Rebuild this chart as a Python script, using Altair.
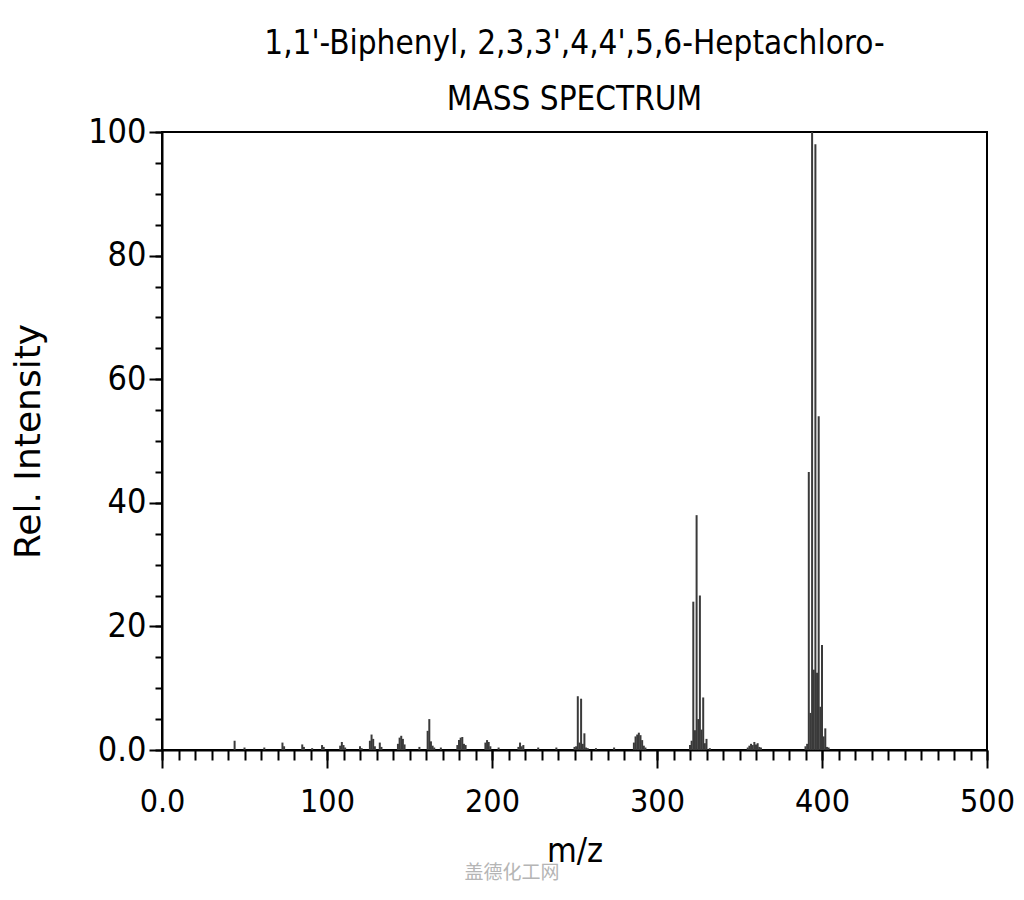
import altair as alt
import pandas as pd

mz = [44, 50, 62, 73, 74, 85, 86, 91, 97, 98, 108, 109, 110, 111, 120, 121,
      126, 127, 128, 129, 132, 133, 143, 144, 145, 146, 147, 156, 161, 162,
      163, 164, 165, 169, 179, 180, 181, 182, 183, 184, 196, 197, 198, 199,
      204, 216, 217, 218, 219, 228, 239, 250, 251, 252, 253, 254, 255, 256,
      257, 258, 263, 274, 286, 287, 288, 289, 290, 291, 292, 293, 320, 321,
      322, 323, 324, 325, 326, 327, 328, 329, 330, 332, 355, 356, 357, 358,
      359, 360, 361, 362, 363, 390, 391, 392, 393, 394, 395, 396, 397, 398,
      399, 400, 401, 402, 403, 404]
intensity = [1.5, 0.4, 0.4, 1.2, 0.6, 0.9, 0.5, 0.3, 0.8, 0.5, 0.7, 1.3, 0.8, 0.4, 0.6, 0.3,
             1.5, 2.5, 1.8, 0.6, 1.2, 0.5, 1.0, 2.0, 2.3, 1.8, 0.9, 0.5, 3.1, 5.0,
             1.4, 0.7, 0.4, 0.4, 0.8, 1.6, 2.0, 2.1, 1.0, 0.8, 1.2, 1.6, 1.3, 0.6,
             0.4, 0.5, 1.2, 0.6, 0.8, 0.4, 0.4, 0.5, 0.6, 8.7, 1.2, 8.3, 1.0, 2.7,
             0.4, 0.3, 0.3, 0.4, 1.2, 2.2, 2.5, 2.8, 2.4, 1.6, 0.7, 0.4, 0.8, 1.5,
             24.0, 3.2, 38.0, 5.0, 25.0, 3.3, 8.5, 1.1, 1.8, 0.3, 0.4, 0.7, 1.0, 0.8,
             1.3, 0.9, 1.1, 0.5, 0.4, 0.6, 1.0, 45.0, 6.0, 100.0, 13.0, 98.0, 12.5, 54.0,
             7.0, 17.0, 2.2, 3.5, 0.5, 0.4]

x_major = [0, 100, 200, 300, 400, 500]
x_minor = list(range(0, 501, 10))
y_major = [0, 20, 40, 60, 80, 100]
y_minor = list(range(0, 101, 5))

title_lines = ["1,1'-Biphenyl, 2,3,3',4,4',5,6-Heptachloro-", "MASS SPECTRUM"]
watermark = "盖德化工网"

df = pd.DataFrame({"mz": mz, "intensity": intensity})

FONT = "DejaVu Sans Condensed, DejaVu Sans"
lab_expr = "datum.value == 0 ? '0.0' : format(datum.value, 'd')"

xscale = alt.Scale(domain=[0, 500], nice=False, zero=False)
yscale = alt.Scale(domain=[0, 100], nice=False)

bars = alt.Chart(df).mark_rule(color="#3a3a3a", strokeWidth=2).encode(
    x=alt.X("mz:Q", scale=xscale,
            axis=alt.Axis(values=x_major, tickSize=18, tickWidth=2, tickColor="black",
                          domainColor="black", domainWidth=2, labelExpr=lab_expr,
                          labelFont=FONT, labelFontSize=32, labelColor="black",
                          labelPadding=18, title="m/z", titleFont=FONT,
                          titleFontSize=34, titleFontWeight="normal", titleColor="black",
                          titlePadding=17, grid=False, labelFlush=False)),
    y=alt.Y("intensity:Q", scale=yscale,
            axis=alt.Axis(values=y_major, tickSize=13, tickWidth=2, tickColor="black",
                          domainColor="black", domainWidth=2, labelExpr=lab_expr,
                          labelFont=FONT, labelFontSize=34, labelColor="black",
                          labelPadding=3, title="Rel. Intensity", titleFont="DejaVu Sans",
                          titleFontSize=36, titleFontWeight="normal", titleColor="black",
                          titlePadding=40, grid=False, labelFlush=False)),
    y2=alt.datum(0),
)

minor = alt.Chart(df).mark_point(opacity=0).encode(
    x=alt.X("mz:Q", scale=xscale,
            axis=alt.Axis(values=x_minor, tickSize=10, tickWidth=2, tickColor="black",
                          labels=False, domain=False, title=None, grid=False,
                          orient="bottom")),
    y=alt.Y("intensity:Q", scale=yscale,
            axis=alt.Axis(values=y_minor, tickSize=7, tickWidth=2, tickColor="black",
                          labels=False, domain=False, title=None, grid=False,
                          orient="left")),
)

wm = alt.Chart(pd.DataFrame({"t": [watermark]})).mark_text(
    font="Noto Sans CJK SC", fontSize=19, color="#b5b5b5", align="center", baseline="middle"
).encode(x=alt.value(350), y=alt.value(741), text="t:N")

chart = alt.layer(bars, minor, wm).resolve_axis(x="independent", y="independent").properties(
    width=825, height=618,
    autosize="none",
    padding={"left": 154, "top": 124, "right": 29, "bottom": 135},
    title=alt.Title(title_lines, font=FONT, fontSize=33, fontWeight="normal",
                    color="black", lineHeight=56, offset=-2, anchor="middle"),
).configure_view(stroke="black", strokeWidth=2)

chart.save("out.html", embed_options={"renderer": "svg", "actions": False})
